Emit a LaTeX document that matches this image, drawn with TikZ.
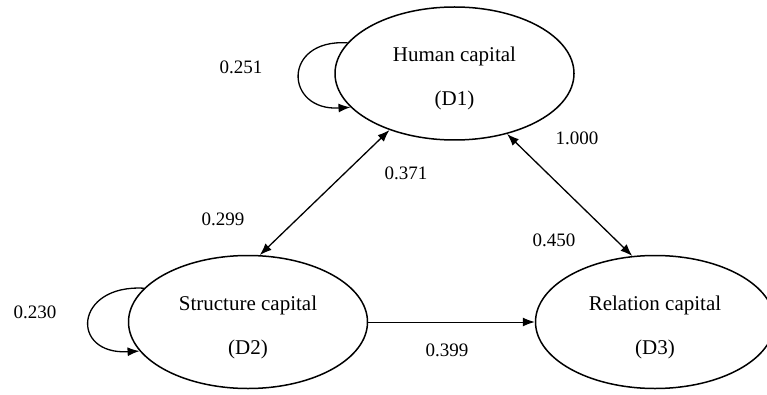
\documentclass[tikz,border=0pt]{standalone}
\usepackage{fontspec}
\setmainfont{Liberation Serif}
\usepackage{tikz}
\usetikzlibrary{arrows.meta}
\usetikzlibrary{shapes.geometric}

\begin{document}
\begin{tikzpicture}[x=1pt, y=1pt, line width=1.3pt,
    capital/.style={ellipse, draw, line width=1.5pt, inner sep=0pt, align=center,
        minimum width=239pt, minimum height=133pt, text height=69pt,
        font=\fontsize{21}{22}\selectfont},
    coef/.style={font=\fontsize{19}{22}\selectfont},
    tip/.style={-{Latex[length=12pt,width=9pt]}},
    bitip/.style={{Latex[length=12pt,width=9pt]}-{Latex[length=12pt,width=9pt]}}]

\useasboundingbox (0,0) rectangle (767,394);

% Capital nodes
\node[capital] (d1) at (454.5,320.5) {Human capital\\[22pt](D1)};
\node[capital] (d2) at (248,72) {Structure capital\\[22pt](D2)};
\node[capital] (d3) at (655,72) {Relation capital\\[22pt](D3)};

% Self loops
\draw[tip] (d1.164) .. controls +(-66,4) and +(-66,-4) .. (d1.198);
\draw[tip] (d2.162) .. controls +(-70,4) and +(-70,-4) .. (d2.195);

% Connections between capitals
\draw[bitip] (d1.221) -- (d2.80);
\draw[bitip] (d1.311) -- (d3.109);
\draw[tip, line width=1pt] (d2) -- (d3);

% Coefficients
\node[coef] (c11) at (241,327) {0.251};
\node[coef] (c22) at (35,82) {0.230};
\node[coef] (c12a) at (406,221) {0.371};
\node[coef] (c12b) at (223,175) {0.299};
\node[coef] (c13a) at (577,256) {1.000};
\node[coef] (c13b) at (554,154) {0.450};
\node[coef] (c23) at (447,44) {0.399};

\end{tikzpicture}
\end{document}
